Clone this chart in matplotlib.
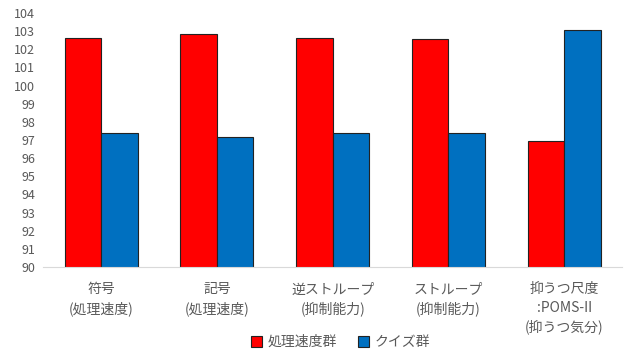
import numpy as np
import matplotlib.pyplot as plt

plt.rcParams['font.family'] = ['Noto Sans CJK JP', 'DejaVu Sans']

categories = ["符号\n(処理速度)", "記号\n(処理速度)", "逆ストループ\n(抑制能力)",
              "ストループ\n(抑制能力)", "抑うつ尺度\n:POMS-II\n(抑うつ気分)"]
speed_group = [102.62, 102.84, 102.6, 102.57, 96.94]
quiz_group = [97.39, 97.14, 97.39, 97.4, 103.05]
series_names = ["処理速度群", "クイズ群"]

fig = plt.figure(figsize=(6.36, 3.59), dpi=100)
ax = fig.add_axes([0.068, 0.256, 0.91, 0.708])

x = np.arange(len(categories))
w = 0.316
ax.bar(x - w / 2, speed_group, w, color="#ff0000", edgecolor="#222222",
       linewidth=0.8, label=series_names[0])
ax.bar(x + w / 2, quiz_group, w, color="#0070c0", edgecolor="#222222",
       linewidth=0.8, label=series_names[1])

ax.set_ylim(90, 104)
ax.set_yticks(range(90, 105))
ax.set_xlim(-0.5, len(categories) - 0.5)
ax.set_xticks(x)
ax.set_xticklabels(categories, fontsize=10, color="#595959", linespacing=1.4)
ax.tick_params(axis="y", labelsize=9, labelcolor="#595959", length=0, pad=6)
ax.tick_params(axis="x", length=0, pad=11)

for s in ["top", "right", "left"]:
    ax.spines[s].set_visible(False)
ax.spines["bottom"].set_color("#d9d9d9")

fig.legend(loc="center", bbox_to_anchor=(0.535, 0.047), ncol=2, frameon=False,
           fontsize=10, labelcolor="#595959", handlelength=0.8, handleheight=0.8,
           columnspacing=1.5, handletextpad=0.4)

fig.savefig("out.png", dpi=100)
